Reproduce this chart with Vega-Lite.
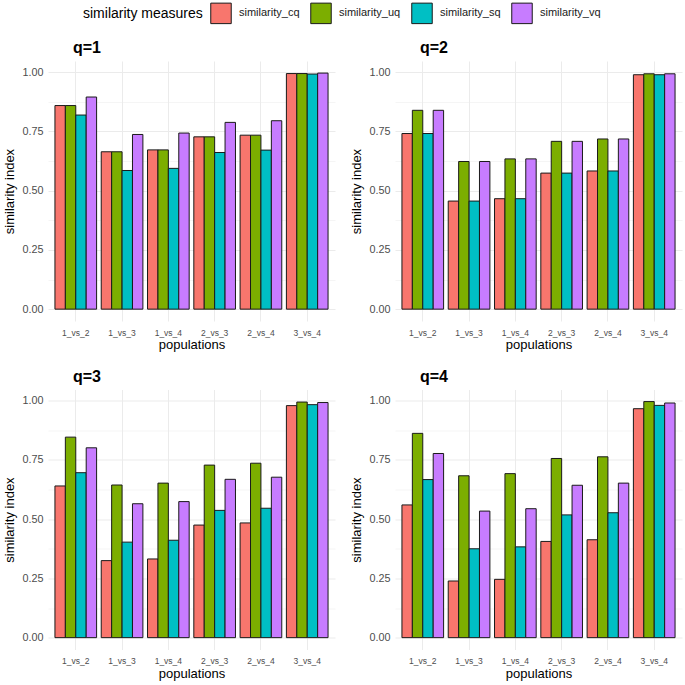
{
  "$schema": "https://vega.github.io/schema/vega-lite/v6.json",
  "padding": {"left": 3, "top": 2, "right": 3, "bottom": 4},
  "background": "white",
  "config": {
    "font": "Liberation Sans",
    "view": {"stroke": null},
    "axis": {
      "ticks": false, "tickSize": 0, "domain": false,
      "gridColor": "#EBEBEB",
      "labelColor": "#4D4D4D", "labelFont": "Liberation Sans",
      "titleColor": "#000000", "titleFont": "Liberation Sans", "titleFontWeight": "normal", "titleFontSize": 13
    },
    "title": {"font": "Liberation Sans", "fontSize": 16, "fontWeight": "bold", "anchor": "start", "frame": "group", "dx": 25, "offset": 5, "color": "#000000"}
  },
  "data": {"values": [
    {"q":"q=1","pop":"1_vs_2","measure":"similarity_cq","value":0.859},
    {"q":"q=1","pop":"1_vs_2","measure":"similarity_uq","value":0.859},
    {"q":"q=1","pop":"1_vs_2","measure":"similarity_sq","value":0.819},
    {"q":"q=1","pop":"1_vs_2","measure":"similarity_vq","value":0.895},
    {"q":"q=1","pop":"1_vs_3","measure":"similarity_cq","value":0.664},
    {"q":"q=1","pop":"1_vs_3","measure":"similarity_uq","value":0.664},
    {"q":"q=1","pop":"1_vs_3","measure":"similarity_sq","value":0.585},
    {"q":"q=1","pop":"1_vs_3","measure":"similarity_vq","value":0.737},
    {"q":"q=1","pop":"1_vs_4","measure":"similarity_cq","value":0.672},
    {"q":"q=1","pop":"1_vs_4","measure":"similarity_uq","value":0.672},
    {"q":"q=1","pop":"1_vs_4","measure":"similarity_sq","value":0.594},
    {"q":"q=1","pop":"1_vs_4","measure":"similarity_vq","value":0.743},
    {"q":"q=1","pop":"2_vs_3","measure":"similarity_cq","value":0.727},
    {"q":"q=1","pop":"2_vs_3","measure":"similarity_uq","value":0.727},
    {"q":"q=1","pop":"2_vs_3","measure":"similarity_sq","value":0.661},
    {"q":"q=1","pop":"2_vs_3","measure":"similarity_vq","value":0.788},
    {"q":"q=1","pop":"2_vs_4","measure":"similarity_cq","value":0.734},
    {"q":"q=1","pop":"2_vs_4","measure":"similarity_uq","value":0.734},
    {"q":"q=1","pop":"2_vs_4","measure":"similarity_sq","value":0.671},
    {"q":"q=1","pop":"2_vs_4","measure":"similarity_vq","value":0.795},
    {"q":"q=1","pop":"3_vs_4","measure":"similarity_cq","value":0.994},
    {"q":"q=1","pop":"3_vs_4","measure":"similarity_uq","value":0.994},
    {"q":"q=1","pop":"3_vs_4","measure":"similarity_sq","value":0.992},
    {"q":"q=1","pop":"3_vs_4","measure":"similarity_vq","value":0.996},
    {"q":"q=2","pop":"1_vs_2","measure":"similarity_cq","value":0.741},
    {"q":"q=2","pop":"1_vs_2","measure":"similarity_uq","value":0.839},
    {"q":"q=2","pop":"1_vs_2","measure":"similarity_sq","value":0.741},
    {"q":"q=2","pop":"1_vs_2","measure":"similarity_vq","value":0.839},
    {"q":"q=2","pop":"1_vs_3","measure":"similarity_cq","value":0.456},
    {"q":"q=2","pop":"1_vs_3","measure":"similarity_uq","value":0.623},
    {"q":"q=2","pop":"1_vs_3","measure":"similarity_sq","value":0.456},
    {"q":"q=2","pop":"1_vs_3","measure":"similarity_vq","value":0.623},
    {"q":"q=2","pop":"1_vs_4","measure":"similarity_cq","value":0.466},
    {"q":"q=2","pop":"1_vs_4","measure":"similarity_uq","value":0.634},
    {"q":"q=2","pop":"1_vs_4","measure":"similarity_sq","value":0.466},
    {"q":"q=2","pop":"1_vs_4","measure":"similarity_vq","value":0.634},
    {"q":"q=2","pop":"2_vs_3","measure":"similarity_cq","value":0.574},
    {"q":"q=2","pop":"2_vs_3","measure":"similarity_uq","value":0.708},
    {"q":"q=2","pop":"2_vs_3","measure":"similarity_sq","value":0.574},
    {"q":"q=2","pop":"2_vs_3","measure":"similarity_vq","value":0.708},
    {"q":"q=2","pop":"2_vs_4","measure":"similarity_cq","value":0.583},
    {"q":"q=2","pop":"2_vs_4","measure":"similarity_uq","value":0.718},
    {"q":"q=2","pop":"2_vs_4","measure":"similarity_sq","value":0.583},
    {"q":"q=2","pop":"2_vs_4","measure":"similarity_vq","value":0.718},
    {"q":"q=2","pop":"3_vs_4","measure":"similarity_cq","value":0.989},
    {"q":"q=2","pop":"3_vs_4","measure":"similarity_uq","value":0.993},
    {"q":"q=2","pop":"3_vs_4","measure":"similarity_sq","value":0.989},
    {"q":"q=2","pop":"3_vs_4","measure":"similarity_vq","value":0.993},
    {"q":"q=3","pop":"1_vs_2","measure":"similarity_cq","value":0.640},
    {"q":"q=3","pop":"1_vs_2","measure":"similarity_uq","value":0.846},
    {"q":"q=3","pop":"1_vs_2","measure":"similarity_sq","value":0.696},
    {"q":"q=3","pop":"1_vs_2","measure":"similarity_vq","value":0.801},
    {"q":"q=3","pop":"1_vs_3","measure":"similarity_cq","value":0.325},
    {"q":"q=3","pop":"1_vs_3","measure":"similarity_uq","value":0.644},
    {"q":"q=3","pop":"1_vs_3","measure":"similarity_sq","value":0.403},
    {"q":"q=3","pop":"1_vs_3","measure":"similarity_vq","value":0.565},
    {"q":"q=3","pop":"1_vs_4","measure":"similarity_cq","value":0.332},
    {"q":"q=3","pop":"1_vs_4","measure":"similarity_uq","value":0.652},
    {"q":"q=3","pop":"1_vs_4","measure":"similarity_sq","value":0.411},
    {"q":"q=3","pop":"1_vs_4","measure":"similarity_vq","value":0.574},
    {"q":"q=3","pop":"2_vs_3","measure":"similarity_cq","value":0.475},
    {"q":"q=3","pop":"2_vs_3","measure":"similarity_uq","value":0.728},
    {"q":"q=3","pop":"2_vs_3","measure":"similarity_sq","value":0.537},
    {"q":"q=3","pop":"2_vs_3","measure":"similarity_vq","value":0.668},
    {"q":"q=3","pop":"2_vs_4","measure":"similarity_cq","value":0.484},
    {"q":"q=3","pop":"2_vs_4","measure":"similarity_uq","value":0.736},
    {"q":"q=3","pop":"2_vs_4","measure":"similarity_sq","value":0.546},
    {"q":"q=3","pop":"2_vs_4","measure":"similarity_vq","value":0.677},
    {"q":"q=3","pop":"3_vs_4","measure":"similarity_cq","value":0.979},
    {"q":"q=3","pop":"3_vs_4","measure":"similarity_uq","value":0.994},
    {"q":"q=3","pop":"3_vs_4","measure":"similarity_sq","value":0.983},
    {"q":"q=3","pop":"3_vs_4","measure":"similarity_vq","value":0.992},
    {"q":"q=4","pop":"1_vs_2","measure":"similarity_cq","value":0.560},
    {"q":"q=4","pop":"1_vs_2","measure":"similarity_uq","value":0.862},
    {"q":"q=4","pop":"1_vs_2","measure":"similarity_sq","value":0.667},
    {"q":"q=4","pop":"1_vs_2","measure":"similarity_vq","value":0.777},
    {"q":"q=4","pop":"1_vs_3","measure":"similarity_cq","value":0.239},
    {"q":"q=4","pop":"1_vs_3","measure":"similarity_uq","value":0.683},
    {"q":"q=4","pop":"1_vs_3","measure":"similarity_sq","value":0.375},
    {"q":"q=4","pop":"1_vs_3","measure":"similarity_vq","value":0.534},
    {"q":"q=4","pop":"1_vs_4","measure":"similarity_cq","value":0.246},
    {"q":"q=4","pop":"1_vs_4","measure":"similarity_uq","value":0.692},
    {"q":"q=4","pop":"1_vs_4","measure":"similarity_sq","value":0.383},
    {"q":"q=4","pop":"1_vs_4","measure":"similarity_vq","value":0.544},
    {"q":"q=4","pop":"2_vs_3","measure":"similarity_cq","value":0.406},
    {"q":"q=4","pop":"2_vs_3","measure":"similarity_uq","value":0.756},
    {"q":"q=4","pop":"2_vs_3","measure":"similarity_sq","value":0.518},
    {"q":"q=4","pop":"2_vs_3","measure":"similarity_vq","value":0.643},
    {"q":"q=4","pop":"2_vs_4","measure":"similarity_cq","value":0.413},
    {"q":"q=4","pop":"2_vs_4","measure":"similarity_uq","value":0.763},
    {"q":"q=4","pop":"2_vs_4","measure":"similarity_sq","value":0.527},
    {"q":"q=4","pop":"2_vs_4","measure":"similarity_vq","value":0.652},
    {"q":"q=4","pop":"3_vs_4","measure":"similarity_cq","value":0.966},
    {"q":"q=4","pop":"3_vs_4","measure":"similarity_uq","value":0.996},
    {"q":"q=4","pop":"3_vs_4","measure":"similarity_sq","value":0.980},
    {"q":"q=4","pop":"3_vs_4","measure":"similarity_vq","value":0.990}
  ]},
  "columns": 2,
  "spacing": {"row": 16.5, "column": 15},
  "resolve": {"scale": {"color": "shared"}},
  "concat": [
    {"title": "q=1", "width": 287, "height": 260,
     "transform": [{"filter": "datum.q == 'q=1'"}],
     "mark": {"type": "bar", "stroke": "#1A1A1A", "strokeWidth": 1},
     "encoding": {
       "x": {"field": "pop", "type": "nominal", "scale": {"paddingInner": 0.1, "paddingOuter": 0.15}, "axis": {"title": "populations", "labelAngle": 0, "bandPosition": 0.5, "grid": true, "gridWidth": 1, "labelFontSize": 8.5, "labelPadding": 7, "titlePadding": 2}},
       "xOffset": {"field": "measure", "sort": ["similarity_cq","similarity_uq","similarity_sq","similarity_vq"], "scale": {"paddingInner": 0, "paddingOuter": 0}},
       "y": {"field": "value", "type": "quantitative", "scale": {"domain": [-0.05, 1.047], "nice": false}, "axis": {"title": "similarity index", "values": [0,0.125,0.25,0.375,0.5,0.625,0.75,0.875,1], "labelExpr": "datum.value % 0.25 === 0 ? format(datum.value, '.2f') : ''", "gridWidth": {"condition": {"test": "datum.value % 0.25 !== 0", "value": 0.5}, "value": 1}, "labelFontSize": 10.8, "labelPadding": 5, "titlePadding": 5}},
       "y2": {"datum": 0},
       "color": {"field": "measure", "type": "nominal", "scale": {"domain": ["similarity_cq","similarity_uq","similarity_sq","similarity_vq"], "range": ["#F8766D","#7CAE00","#00BFC4","#C77CFF"]},
         "legend": {"title": "similarity measures", "orient": "none", "legendX": 35, "legendY": -59, "direction": "horizontal", "titleOrient": "left", "titleFontSize": 14, "titleFontWeight": "normal", "titleColor": "#000000", "labelFontSize": 11, "labelColor": "#1A1A1A", "symbolType": "square", "symbolSize": 420, "symbolStrokeColor": "#1A1A1A", "symbolStrokeWidth": 1, "symbolOpacity": 1, "labelOffset": 7, "columnPadding": 8, "titlePadding": 7}}
     }},
    {"title": "q=2", "width": 287, "height": 260,
     "transform": [{"filter": "datum.q == 'q=2'"}],
     "mark": {"type": "bar", "stroke": "#1A1A1A", "strokeWidth": 1},
     "encoding": {
       "x": {"field": "pop", "type": "nominal", "scale": {"paddingInner": 0.1, "paddingOuter": 0.15}, "axis": {"title": "populations", "labelAngle": 0, "bandPosition": 0.5, "grid": true, "gridWidth": 1, "labelFontSize": 8.5, "labelPadding": 7, "titlePadding": 2}},
       "xOffset": {"field": "measure", "sort": ["similarity_cq","similarity_uq","similarity_sq","similarity_vq"], "scale": {"paddingInner": 0, "paddingOuter": 0}},
       "y": {"field": "value", "type": "quantitative", "scale": {"domain": [-0.05, 1.047], "nice": false}, "axis": {"title": "similarity index", "values": [0,0.125,0.25,0.375,0.5,0.625,0.75,0.875,1], "labelExpr": "datum.value % 0.25 === 0 ? format(datum.value, '.2f') : ''", "gridWidth": {"condition": {"test": "datum.value % 0.25 !== 0", "value": 0.5}, "value": 1}, "labelFontSize": 10.8, "labelPadding": 5, "titlePadding": 5}},
       "y2": {"datum": 0},
       "color": {"field": "measure", "type": "nominal"}
     }},
    {"title": "q=3", "width": 287, "height": 260,
     "transform": [{"filter": "datum.q == 'q=3'"}],
     "mark": {"type": "bar", "stroke": "#1A1A1A", "strokeWidth": 1},
     "encoding": {
       "x": {"field": "pop", "type": "nominal", "scale": {"paddingInner": 0.1, "paddingOuter": 0.15}, "axis": {"title": "populations", "labelAngle": 0, "bandPosition": 0.5, "grid": true, "gridWidth": 1, "labelFontSize": 8.5, "labelPadding": 7, "titlePadding": 2}},
       "xOffset": {"field": "measure", "sort": ["similarity_cq","similarity_uq","similarity_sq","similarity_vq"], "scale": {"paddingInner": 0, "paddingOuter": 0}},
       "y": {"field": "value", "type": "quantitative", "scale": {"domain": [-0.05, 1.047], "nice": false}, "axis": {"title": "similarity index", "values": [0,0.125,0.25,0.375,0.5,0.625,0.75,0.875,1], "labelExpr": "datum.value % 0.25 === 0 ? format(datum.value, '.2f') : ''", "gridWidth": {"condition": {"test": "datum.value % 0.25 !== 0", "value": 0.5}, "value": 1}, "labelFontSize": 10.8, "labelPadding": 5, "titlePadding": 5}},
       "y2": {"datum": 0},
       "color": {"field": "measure", "type": "nominal"}
     }},
    {"title": "q=4", "width": 287, "height": 260,
     "transform": [{"filter": "datum.q == 'q=4'"}],
     "mark": {"type": "bar", "stroke": "#1A1A1A", "strokeWidth": 1},
     "encoding": {
       "x": {"field": "pop", "type": "nominal", "scale": {"paddingInner": 0.1, "paddingOuter": 0.15}, "axis": {"title": "populations", "labelAngle": 0, "bandPosition": 0.5, "grid": true, "gridWidth": 1, "labelFontSize": 8.5, "labelPadding": 7, "titlePadding": 2}},
       "xOffset": {"field": "measure", "sort": ["similarity_cq","similarity_uq","similarity_sq","similarity_vq"], "scale": {"paddingInner": 0, "paddingOuter": 0}},
       "y": {"field": "value", "type": "quantitative", "scale": {"domain": [-0.05, 1.047], "nice": false}, "axis": {"title": "similarity index", "values": [0,0.125,0.25,0.375,0.5,0.625,0.75,0.875,1], "labelExpr": "datum.value % 0.25 === 0 ? format(datum.value, '.2f') : ''", "gridWidth": {"condition": {"test": "datum.value % 0.25 !== 0", "value": 0.5}, "value": 1}, "labelFontSize": 10.8, "labelPadding": 5, "titlePadding": 5}},
       "y2": {"datum": 0},
       "color": {"field": "measure", "type": "nominal"}
     }}
  ]
}
